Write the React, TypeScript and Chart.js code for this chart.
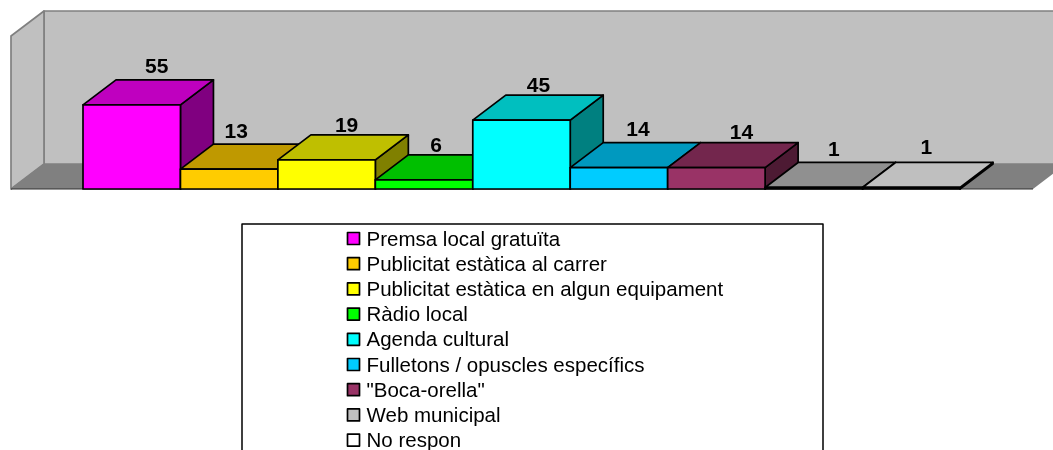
import React, { useEffect, useRef } from "react";
import { Chart, registerables } from "chart.js";

Chart.register(...registerables);

const categories = [
  "Premsa local gratuïta",
  "Publicitat estàtica al carrer",
  "Publicitat estàtica en algun equipament",
  "Ràdio local",
  "Agenda cultural",
  "Fulletons / opuscles específics",
  "\"Boca-orella\"",
  "Web municipal",
  "No respon",
];
const values = [55, 13, 19, 6, 45, 14, 14, 1, 1];
const frontColors = ["#FF00FF", "#FFCC00", "#FFFF00", "#00FF00", "#00FFFF", "#00CCFF", "#993366", "#C0C0C0", "#FFFFFF"];
const topColors = ["#BF00BF", "#BF9900", "#BFBF00", "#00BF00", "#00BFBF", "#0099BF", "#73264D", "#909090", "#BFBFBF"];
const sideColors = ["#800080", "#806600", "#808000", "#008000", "#008080", "#006680", "#4D1A33", "#606060", "#808080"];

const DX = 33;
const DY = 25;
const labelNudgeX = [25, 7, 20, 12, 17, 19, 25, 20, 15];
const labelNudgeY = [12.5, 11.5, 8.5, 8.5, 8.5, 12.5, 9.5, 12.5, 14.5];

const poly = (ctx: CanvasRenderingContext2D, pts: number[][], fill: string | null, stroke: string | null, lw = 1.7) => {
  ctx.beginPath();
  pts.forEach((p, i) => (i ? ctx.lineTo(p[0], p[1]) : ctx.moveTo(p[0], p[1])));
  ctx.closePath();
  if (fill) {
    ctx.fillStyle = fill;
    ctx.fill();
  }
  if (stroke) {
    ctx.strokeStyle = stroke;
    ctx.lineWidth = lw;
    ctx.lineJoin = "round";
    ctx.stroke();
  }
};

const box3d = {
  id: "box3d",
  beforeDatasetsDraw(chart: any) {
    const { ctx, chartArea: a, width } = chart;
    const yTop = a.top;
    const yBase = a.bottom;
    const leftX = 11;
    const far = width + 40;
    ctx.save();
    poly(ctx, [[leftX + DX, yTop - DY], [far, yTop - DY], [far, yBase - DY], [leftX + DX, yBase - DY]], "#C0C0C0", "#808080");
    poly(ctx, [[leftX, yTop], [leftX + DX, yTop - DY], [leftX + DX, yBase - DY], [leftX, yBase]], "#C0C0C0", "#808080");
    poly(ctx, [[leftX, yBase], [leftX + DX, yBase - DY], [1066, yBase - DY], [1033, yBase]], "#808080", null);
    ctx.strokeStyle = "#808080";
    ctx.lineWidth = 1;
    ctx.beginPath();
    ctx.moveTo(leftX, yBase);
    ctx.lineTo(leftX + DX, yBase - DY);
    ctx.stroke();
    ctx.strokeStyle = "#303030";
    ctx.beginPath();
    ctx.moveTo(leftX, yBase);
    ctx.lineTo(1033, yBase);
    ctx.stroke();
    ctx.restore();
  },
  afterDatasetsDraw(chart: any) {
    const { ctx } = chart;
    const bars = chart.getDatasetMeta(0).data;
    ctx.save();
    bars.forEach((bar: any, i: number) => {
      const w = bar.width;
      const l = bar.x - w / 2;
      const r = bar.x + w / 2;
      const t = bar.y;
      const b = bar.base;
      poly(ctx, [[r, b], [r + DX, b - DY], [r + DX, t - DY], [r, t]], sideColors[i], "#000");
      poly(ctx, [[l, t], [l + DX, t - DY], [r + DX, t - DY], [r, t]], topColors[i], "#000");
      poly(ctx, [[l, t], [r, t], [r, b], [l, b]], frontColors[i], "#000");
    });
    ctx.fillStyle = "#000";
    ctx.font = "bold 21px 'Liberation Sans', Arial, sans-serif";
    ctx.textAlign = "center";
    ctx.textBaseline = "middle";
    bars.forEach((bar: any, i: number) => {
      ctx.fillText(String(values[i]), bar.x + labelNudgeX[i], bar.y - DY - labelNudgeY[i]);
    });
    ctx.strokeStyle = "#000";
    ctx.lineWidth = 1.5;
    ctx.fillStyle = "#fff";
    ctx.fillRect(242, 224, 581, 240);
    ctx.strokeRect(242, 224, 581, 240);
    ctx.font = "20.5px 'Liberation Sans', Arial, sans-serif";
    ctx.textAlign = "left";
    categories.forEach((name, i) => {
      const cy = 238.5 + i * 25.2;
      ctx.fillStyle = frontColors[i];
      ctx.fillRect(347.5, cy - 6, 12, 12);
      ctx.strokeStyle = "#000";
      ctx.lineWidth = 1.7;
      ctx.strokeRect(347.5, cy - 6, 12, 12);
      ctx.fillStyle = "#000";
      ctx.fillText(name, 366.5, cy + 1.5);
    });
    ctx.restore();
  },
};

export default function App() {
  const ref = useRef<HTMLCanvasElement>(null);
  useEffect(() => {
    document.body.style.margin = "0";
    const chart = new Chart(ref.current!, {
      type: "bar",
      data: {
        labels: categories,
        datasets: [{ data: values, backgroundColor: frontColors, borderWidth: 0, barPercentage: 1, categoryPercentage: 1 }],
      },
      options: {
        responsive: false,
        animation: false,
        layout: { padding: { left: 83, right: 93, top: 36, bottom: 261 } },
        plugins: { legend: { display: false }, tooltip: { enabled: false } },
        scales: {
          x: { display: false },
          y: { display: false, min: 0, max: 100 },
        },
      },
      plugins: [box3d],
    });
    return () => chart.destroy();
  }, []);
  return <canvas ref={ref} width={1053} height={450} style={{ display: "block", width: 1053, height: 450 }} />;
}
